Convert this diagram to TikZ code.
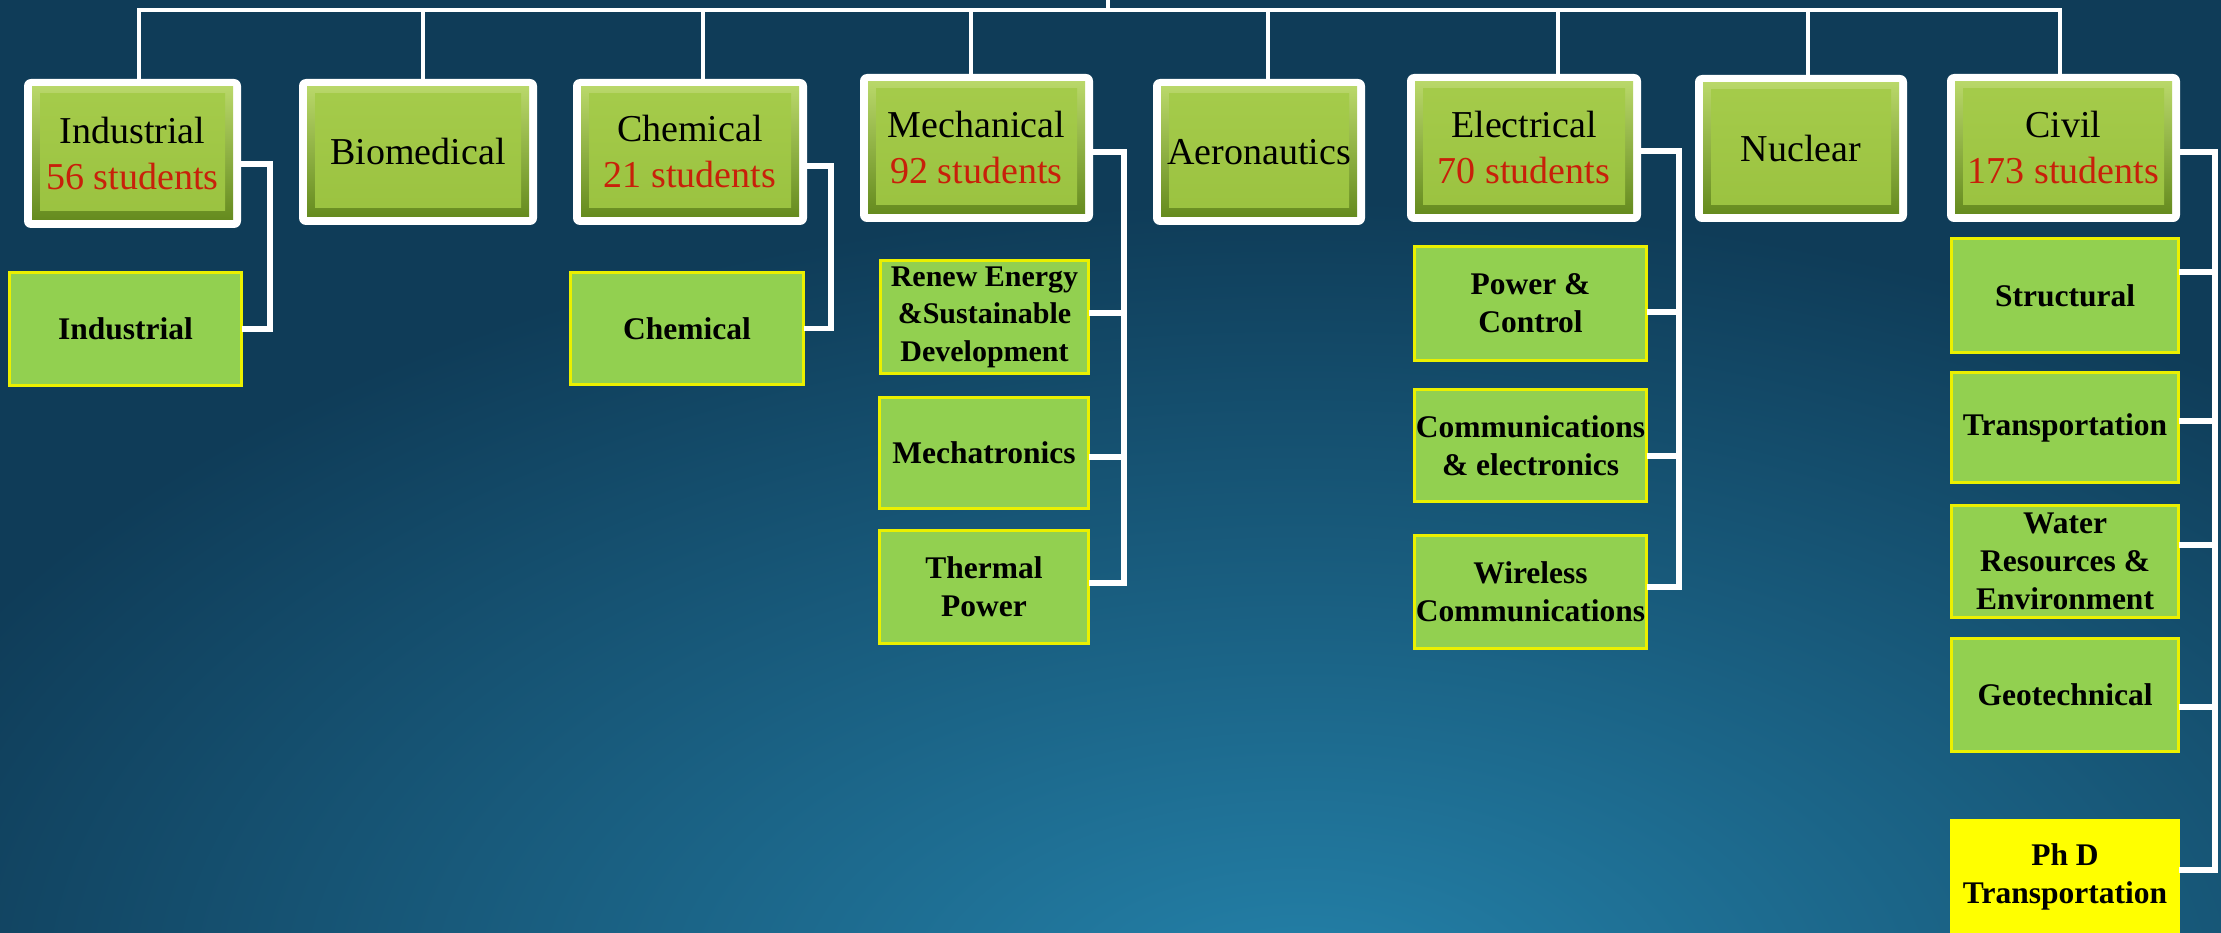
\documentclass[tikz,border=0pt]{standalone}
\usepackage{fontspec}
\setmainfont{Liberation Serif}
\definecolor{bgdark}{RGB}{15,60,88}
\definecolor{bglight}{RGB}{36,130,170}
\definecolor{facegreen}{RGB}{160,200,68}
\definecolor{bevtop}{RGB}{190,220,110}
\definecolor{bevbot}{RGB}{96,134,26}
\definecolor{subgreen}{RGB}{146,208,80}
\definecolor{subedge}{RGB}{235,240,0}
\definecolor{phdyellow}{RGB}{255,255,0}
\definecolor{countred}{RGB}{200,32,10}
\begin{document}
\begin{tikzpicture}[x=1pt,y=-1pt,
  topbox/.style={rectangle, rounded corners=7pt, fill=white, inner sep=0pt, outer sep=0pt, align=center,
    font=\fontsize{38}{46}\selectfont,
    path picture={
      \shade[sharp corners, top color=bevtop, bottom color=bevbot]
        ([shift={(8pt,-8pt)}]path picture bounding box.north west) rectangle
        ([shift={(-8pt,8pt)}]path picture bounding box.south east);
      \shade[sharp corners, top color=facegreen!85!bevtop, bottom color=facegreen!92!bevbot]
        ([shift={(16pt,-15pt)}]path picture bounding box.north west) rectangle
        ([shift={(-16pt,17pt)}]path picture bounding box.south east);
    }},
  subbox/.style={rectangle, fill=subgreen, draw=subedge, line width=3pt, inner sep=0pt, outer sep=0pt,
    align=center, text=black, font=\bfseries\fontsize{31.5}{38}\selectfont},
  phdbox/.style={subbox, fill=phdyellow, draw=phdyellow},
  conn/.style={draw=white, line width=5.5pt, line join=miter},
  busline/.style={draw=white, line width=4.5pt, line join=miter}
]
% background
\fill[bgdark] (0,0) rectangle (2221,933);
\begin{scope}
  \clip (0,0) rectangle (2221,933);
  \shade[inner color=bglight, outer color=bgdark] (1300,1000) ellipse [x radius=1500, y radius=800];
\end{scope}
\useasboundingbox (0,0) rectangle (2221,933);

% top level boxes
\node[topbox, minimum width=217pt, minimum height=149pt] (ind) at (132.5,153.5) {Industrial\\\textcolor{countred}{56 students}};
\node[topbox, minimum width=238pt, minimum height=146pt] (bio) at (418,152) {Biomedical};
\node[topbox, minimum width=234pt, minimum height=146pt] (che) at (690,152) {Chemical\\\textcolor{countred}{21 students}};
\node[topbox, minimum width=233pt, minimum height=148pt] (mec) at (976.5,148) {Mechanical\\\textcolor{countred}{92 students}};
\node[topbox, minimum width=212pt, minimum height=146pt] (aer) at (1259,152) {Aeronautics};
\node[topbox, minimum width=234pt, minimum height=148pt] (ele) at (1524,148) {Electrical\\\textcolor{countred}{70 students}};
\node[topbox, minimum width=212pt, minimum height=147pt] (nuc) at (1801,148.5) {Nuclear};
\node[topbox, minimum width=233pt, minimum height=148pt] (civ) at (2063.5,148) {Civil\\\textcolor{countred}{173 students}};

% sub boxes
\node[subbox, minimum width=232pt, minimum height=113pt] (isub) at (125.5,329) {Industrial};
\node[subbox, minimum width=233pt, minimum height=112pt] (csub) at (687,328.5) {Chemical};
\node[subbox, minimum width=208pt, minimum height=113pt, font=\bfseries\fontsize{30}{37.5}\selectfont] (ren) at (984.5,317) {Renew Energy\\\&Sustainable\\Development};
\node[subbox, minimum width=209pt, minimum height=111pt] (mtr) at (984,453) {Mechatronics};
\node[subbox, minimum width=209pt, minimum height=113pt] (thp) at (984,587) {Thermal\\Power};
\node[subbox, minimum width=232pt, minimum height=114pt] (pwc) at (1530.5,303.5) {Power \&\\Control};
\node[subbox, minimum width=232pt, minimum height=112pt] (com) at (1530.5,445.5) {Communications\\\& electronics};
\node[subbox, minimum width=232pt, minimum height=113pt] (wir) at (1530.5,592) {Wireless\\Communications};
\node[subbox, minimum width=227pt, minimum height=114pt] (str) at (2065,295.5) {Structural};
\node[subbox, minimum width=227pt, minimum height=110pt] (tra) at (2065,427.5) {Transportation};
\node[subbox, minimum width=227pt, minimum height=112pt] (wat) at (2065,561.5) {Water\\Resources \&\\Environment};
\node[subbox, minimum width=227pt, minimum height=113pt] (geo) at (2065,695) {Geotechnical};
\node[phdbox, minimum width=227pt, minimum height=113pt] (phd) at (2065,877) {Ph D\\Transportation};

% top bus
\coordinate (root) at (1108,0);
\coordinate (bus) at (1108,10);
\draw[busline] (root) -- (bus);
\draw[busline] ([xshift=6.5pt]ind.north) -- ([xshift=6.5pt]ind.north |- bus) -- ([xshift=-3.5pt]civ.north |- bus) -- ([xshift=-3.5pt]civ.north);
\draw[busline] ([xshift=5pt]bio.north) -- ([xshift=5pt]bio.north |- bus);
\draw[busline] ([xshift=13pt]che.north) -- ([xshift=13pt]che.north |- bus);
\draw[busline] ([xshift=-5.5pt]mec.north) -- ([xshift=-5.5pt]mec.north |- bus);
\draw[busline] ([xshift=9pt]aer.north) -- ([xshift=9pt]aer.north |- bus);
\draw[busline] ([xshift=34pt]ele.north) -- ([xshift=34pt]ele.north |- bus);
\draw[busline] ([xshift=7pt]nuc.north) -- ([xshift=7pt]nuc.north |- bus);

% elbow connectors
\draw[conn] ([yshift=-10.5pt]ind.east) -- ++(29,0) |- (isub.east);
\draw[conn] ([yshift=-14pt]che.east) -- ++(24,0) |- (csub.east);

\draw[conn] ([yshift=-4pt]mec.east) -- ++(31,0) coordinate (mv) |- ([yshift=4pt]thp.east);
\draw[conn] ([yshift=4pt]ren.east) -- ([yshift=4pt]ren.east -| mv);
\draw[conn] ([yshift=-4pt]mtr.east) -- ([yshift=-4pt]mtr.east -| mv);

\draw[conn] ([yshift=-3pt]ele.east) -- ++(38,0) coordinate (ev) |- ([yshift=5pt]wir.east);
\draw[conn] ([yshift=-8.5pt]pwc.east) -- ([yshift=-8.5pt]pwc.east -| ev);
\draw[conn] ([yshift=-10.5pt]com.east) -- ([yshift=-10.5pt]com.east -| ev);

\draw[conn] ([yshift=-4pt]civ.east) -- ++(35,0) coordinate (cv) |- ([yshift=7pt]phd.east);
\draw[conn] ([yshift=23.5pt]str.east) -- ([yshift=23.5pt]str.east -| cv);
\draw[conn] ([yshift=6.5pt]tra.east) -- ([yshift=6.5pt]tra.east -| cv);
\draw[conn] ([yshift=16.5pt]wat.east) -- ([yshift=16.5pt]wat.east -| cv);
\draw[conn] ([yshift=-12pt]geo.east) -- ([yshift=-12pt]geo.east -| cv);
\end{tikzpicture}
\end{document}
